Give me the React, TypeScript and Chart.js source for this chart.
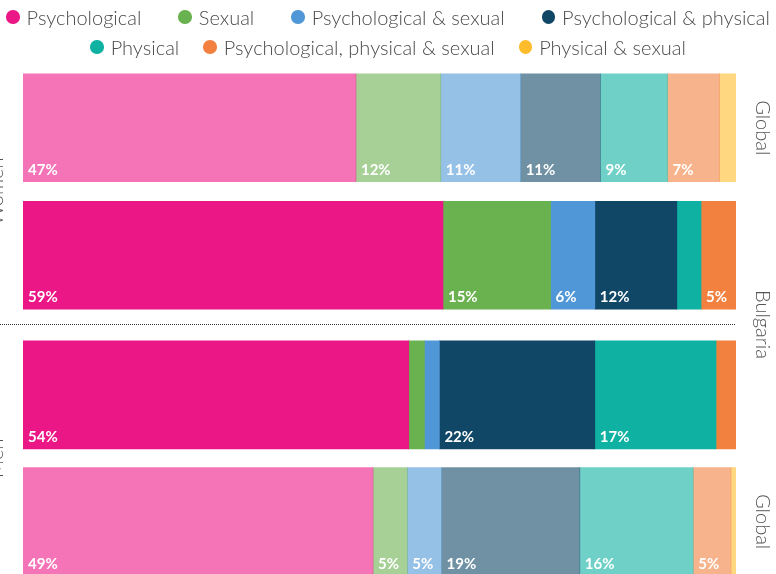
import React, { useEffect, useRef } from "react";
import { Chart, registerables } from "chart.js";

Chart.register(...registerables);

// ---------- data ----------
const seriesNames = [
  "Psychological",
  "Sexual",
  "Psychological & sexual",
  "Psychological & physical",
  "Physical",
  "Psychological, physical & sexual",
  "Physical & sexual",
];
const seriesColors = ["#EC1787", "#6AB150", "#4F97D6", "#114766", "#0FB1A2", "#F28140", "#FDBC2B"];

const womenGroup = "Women";
const menGroup = "Men";
const womenCategories = ["Global", "Bulgaria"];
const menCategories = ["Bulgaria", "Global"];

// share (%) by series, in seriesNames order
const womenGlobal = [46.7, 11.9, 11.2, 11.2, 9.4, 7.3, 2.3];
const womenBulgaria = [58.9, 15.1, 6.2, 11.5, 3.4, 4.9, 0];
const menBulgaria = [54.1, 2.2, 2.1, 21.8, 17.0, 2.8, 0];
const menGlobal = [49.1, 4.8, 4.8, 19.4, 15.9, 5.3, 0.7];

const legendRow1 = [0, 1, 2, 3];
const legendRow2 = [4, 5, 6];

// ---------- helpers ----------
function rgba(hex: string, a: number) {
  const n = parseInt(hex.slice(1), 16);
  return `rgba(${(n >> 16) & 255},${(n >> 8) & 255},${n & 255},${a})`;
}
function colorFor(cat: string, i: number) {
  return cat === "Global" ? rgba(seriesColors[i], 0.6) : seriesColors[i];
}

const segmentLabels = {
  id: "segmentLabels",
  afterDatasetsDraw(chart: any) {
    const ctx = chart.ctx;
    ctx.save();
    ctx.font = "bold 15px Lato";
    ctx.fillStyle = "#ffffff";
    ctx.textAlign = "left";
    ctx.textBaseline = "alphabetic";
    chart.data.datasets.forEach((ds: any, i: number) => {
      const meta = chart.getDatasetMeta(i);
      meta.data.forEach((el: any, j: number) => {
        const v = ds.data[j] as number;
        const r = Math.round(v);
        if (r < 5) return;
        const p = el.getProps(["x", "base", "y", "height"], true);
        const left = Math.min(p.base, p.x);
        ctx.fillText(`${r}%`, left + 5, p.y + p.height / 2 - 7);
      });
    });
    ctx.restore();
  },
};

const sideLabels = {
  id: "sideLabels",
  afterDraw(chart: any, _args: any, opts: any) {
    const { ctx, chartArea, scales } = chart;
    const ys = scales.y;
    ctx.save();
    ctx.font = "300 20px Lato";
    ctx.fillStyle = "#555555";
    ctx.textAlign = "center";
    ctx.textBaseline = "alphabetic";
    const gy = (chartArea.top + chartArea.bottom) / 2;
    ctx.save();
    ctx.translate(3, gy);
    ctx.rotate(-Math.PI / 2);
    ctx.fillText(opts.group, 0, 0);
    ctx.restore();
    const rx = chartArea.right + 20;
    (opts.right || []).forEach((idx: number) => {
      const cy = ys.getPixelForValue(idx);
      ctx.save();
      ctx.translate(rx, cy);
      ctx.rotate(Math.PI / 2);
      ctx.fillText(chart.data.labels[idx], 0, 0);
      ctx.restore();
    });
    if (opts.divider) {
      const dy = Math.round(chartArea.bottom + 6) - 0.5;
      ctx.strokeStyle = "#333333";
      ctx.lineWidth = 1;
      ctx.setLineDash([1, 1]);
      ctx.beginPath();
      ctx.moveTo(0, dy);
      ctx.lineTo(chartArea.right, dy);
      ctx.stroke();
      ctx.setLineDash([]);
      ctx.save();
      ctx.translate(rx, dy);
      ctx.rotate(Math.PI / 2);
      ctx.fillText(opts.dividerLabel, 0, 0);
      ctx.restore();
    }
    ctx.restore();
  },
};

function buildConfig(categories: string[], rows: number[][], padding: any, side: any) {
  return {
    type: "bar" as const,
    data: {
      labels: categories,
      datasets: seriesNames.map((name, i) => ({
        label: name,
        data: rows.map((r) => r[i]),
        backgroundColor: categories.map((c) => colorFor(c, i)),
        borderWidth: 0,
        barThickness: 108,
      })),
    },
    options: {
      indexAxis: "y" as const,
      responsive: false,
      animation: false as const,
      events: [] as any[],
      layout: { padding },
      scales: {
        x: { type: "linear" as const, stacked: true, min: 0, max: 100, display: false },
        y: { type: "category" as const, stacked: true, display: false },
      },
      plugins: {
        legend: { display: false },
        tooltip: { enabled: false },
        sideLabels: side,
      },
    },
    plugins: [segmentLabels, sideLabels],
  };
}

function ChartCanvas({ config, width, height }: { config: any; width: number; height: number }) {
  const ref = useRef<HTMLCanvasElement | null>(null);
  useEffect(() => {
    if (!ref.current) return;
    const chart = new Chart(ref.current, config);
    return () => chart.destroy();
  }, [config]);
  return (
    <canvas
      ref={ref}
      width={width}
      height={height}
      style={{ position: "absolute", left: 0, top: 0, width, height, display: "block" }}
    />
  );
}

const womenConfig = buildConfig(
  womenCategories,
  [womenGlobal, womenBulgaria],
  { top: 64, bottom: 255, left: 23, right: 40 },
  { group: womenGroup, right: [0], divider: true, dividerLabel: "Bulgaria" }
);
const menConfig = buildConfig(
  menCategories,
  [menBulgaria, menGlobal],
  { top: 331.5, bottom: 15, left: 23, right: 40 },
  { group: menGroup, right: [1], divider: false }
);

function LegendRow({ items, gap, top }: { items: number[]; gap: number; top: number }) {
  return (
    <div
      style={{
        position: "absolute",
        left: 0,
        top,
        width: 776,
        height: 30,
        display: "flex",
        justifyContent: "center",
        alignItems: "center",
        gap,
        whiteSpace: "nowrap",
      }}
    >
      {items.map((i) => (
        <span key={i} style={{ display: "flex", alignItems: "center", gap: 7 }}>
          <span
            style={{
              display: "inline-block",
              width: 13.5,
              height: 13.5,
              borderRadius: "50%",
              background: seriesColors[i],
            }}
          />
          <span>{seriesNames[i]}</span>
        </span>
      ))}
    </div>
  );
}

export default function App() {
  return (
    <div
      style={{
        position: "absolute",
        left: 0,
        top: 0,
        width: 776,
        height: 574,
        overflow: "hidden",
        background: "#ffffff",
      }}
    >
      <ChartCanvas config={womenConfig} width={776} height={574} />
      <ChartCanvas config={menConfig} width={776} height={600} />
      <div
        style={{
          position: "absolute",
          left: 0,
          top: 0,
          width: 776,
          fontFamily: "Lato",
          fontWeight: 300,
          fontSize: 20,
          lineHeight: "30px",
          color: "#4a4a4a",
        }}
      >
        <LegendRow items={legendRow1} gap={37} top={2} />
        <LegendRow items={legendRow2} gap={24} top={32} />
      </div>
    </div>
  );
}
